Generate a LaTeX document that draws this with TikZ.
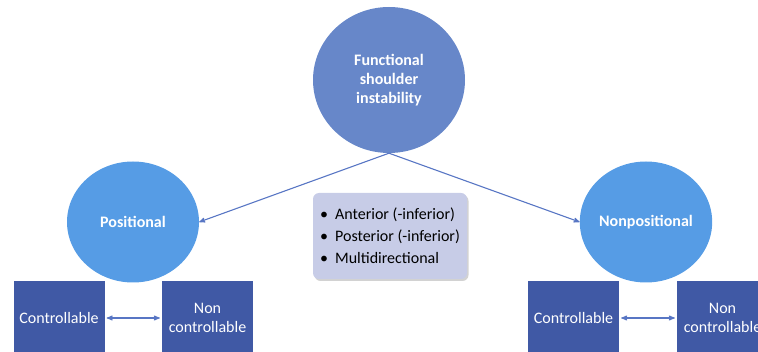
\documentclass[tikz,border=0pt]{standalone}
\usepackage{fontspec}
\setmainfont{Carlito}
\usetikzlibrary{arrows,shapes.geometric,shadows}
\definecolor{topblue}{RGB}{103,135,201}
\definecolor{skyblue}{RGB}{86,156,229}
\definecolor{navyblue}{RGB}{64,89,165}
\definecolor{lavender}{RGB}{199,204,231}
\definecolor{linkblue}{RGB}{88,118,196}

\begin{document}
\begin{tikzpicture}[x=1pt,y=-1pt,
    maincircle/.style={ellipse, fill=topblue, text=white, align=center, inner sep=0pt,
        minimum width=152pt, minimum height=146pt, font=\bfseries\fontsize{16}{19}\selectfont},
    subcircle/.style={ellipse, fill=skyblue, text=white, inner sep=0pt,
        minimum width=132pt, minimum height=121pt, font=\bfseries\fontsize{16}{19}\selectfont},
    typebox/.style={rectangle, fill=navyblue, text=white, align=center, inner sep=0pt,
        minimum width=91pt, minimum height=74pt, font=\fontsize{16}{19}\selectfont},
    listbox/.style={rectangle, rounded corners=6pt, fill=lavender, align=left, inner sep=0pt,
        minimum width=154pt, minimum height=86pt, font=\fontsize{16}{22}\selectfont,
        drop shadow={shadow xshift=1.5pt, shadow yshift=-2pt, fill=black!35}},
    link/.style={draw=linkblue, line width=1.1pt, >=stealth'}]
    \useasboundingbox (0,0) rectangle (758,352);
    \clip (0,0) rectangle (758,352);
    % classification
    \node[maincircle] (fsi) at (389,80) {Functional\\shoulder\\instability};
    \node[typebox] (posc)  at (59,318)    {Controllable};
    \node[typebox] (posn)  at (207.5,318) {Non\\controllable};
    \node[typebox] (nposc) at (573.5,318) {Controllable};
    \node[typebox] (nposn) at (722.5,318) {Non\\controllable};
    \node[subcircle] (pos)  at (133,222) {Positional};
    \node[subcircle] (npos) at (646,222) {Nonpositional};
    \node[listbox] (dirs) at (390,236)
        {\makebox[15pt][l]{\textbullet}Anterior (-inferior)\\
         \makebox[15pt][l]{\textbullet}Posterior (-inferior)\\
         \makebox[15pt][l]{\textbullet}Multidirectional};
    % links
    \draw[link,->] (fsi.south) -- (pos.east);
    \draw[link,->] (fsi.south) -- (npos.west);
    \draw[link,<->, shorten <=2pt, shorten >=2pt] (posc) -- (posn);
    \draw[link,<->, shorten <=2pt, shorten >=2pt] (nposc) -- (nposn);
\end{tikzpicture}
\end{document}
